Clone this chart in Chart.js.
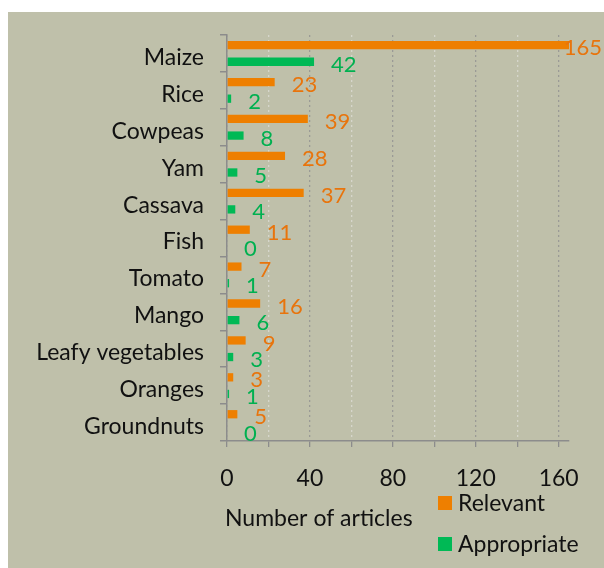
<!DOCTYPE html>
<html>
<head>
<meta charset="utf-8">
<script src="https://cdn.jsdelivr.net/npm/chart.js@4.4.0/dist/chart.umd.min.js"></script>
<style>
  html, body { margin: 0; padding: 0; background: #fff; }
  #wrap { position: absolute; left: 8px; top: 12px; width: 596px; height: 556px; background: #bfc0aa; }
</style>
</head>
<body>
<div id="wrap"><canvas id="chart"></canvas></div>
<script>
const crops = ['Maize', 'Rice', 'Cowpeas', 'Yam', 'Cassava', 'Fish', 'Tomato', 'Mango', 'Leafy vegetables', 'Oranges', 'Groundnuts'];
const relevant = [165, 23, 39, 28, 37, 11, 7, 16, 9, 3, 5];
const appropriate = [42, 2, 8, 5, 4, 0, 1, 6, 3, 1, 0];
const gridValues = [0, 20, 40, 60, 80, 100, 120, 140, 160];
const xTicks = [0, 40, 80, 120, 160];
const axisTitle = 'Number of articles';

const FONT = 'Lato';
const SIZE = 23;
const orange = '#ee7f00';
const green = '#00b955';

// value labels just right of each bar
const valueLabels = {
    id: 'valueLabels',
    afterDatasetsDraw(chart) {
        const c = chart.ctx;
        c.save();
        c.font = '22px ' + FONT;
        c.textBaseline = 'middle';
        chart.data.datasets.forEach((ds, i) => {
            chart.getDatasetMeta(i).data.forEach((bar, j) => {
                const txt = String(ds.data[j]);
                const w = c.measureText(txt).width;
                let x = bar.x + 17;
                if (x + w > chart.width - 2) x = chart.width - 2 - w;
                c.fillStyle = ds.labelColor;
                c.fillText(txt, x, bar.y + 3);
            });
        });
        c.restore();
    }
};

// axis title + vertical legend under the plot
const bottomText = {
    id: 'bottomText',
    afterDraw(chart) {
        const c = chart.ctx;
        c.save();
        c.font = SIZE + 'px ' + FONT;
        c.textBaseline = 'middle';
        c.fillStyle = '#111';
        c.fillText(axisTitle, 217, 507);
        const ys = [491, 532];
        chart.data.datasets.forEach((ds, i) => {
            c.fillStyle = ds.backgroundColor;
            c.fillRect(430, ys[i] - 7, 14, 14);
            c.fillStyle = '#111';
            c.fillText(ds.label, 450, ys[i] + 1);
        });
        c.restore();
    }
};

new Chart(document.getElementById('chart'), {
    type: 'bar',
    data: {
        labels: crops,
        datasets: [
            { label: 'Relevant', data: relevant, backgroundColor: orange, labelColor: '#e8740c' },
            { label: 'Appropriate', data: appropriate, backgroundColor: green, labelColor: '#00b050' }
        ]
    },
    options: {
        indexAxis: 'y',
        responsive: true,
        maintainAspectRatio: false,
        animation: false,
        barPercentage: 0.5,
        categoryPercentage: 0.9,
        layout: { padding: { top: 23, right: 35, left: 0, bottom: 0 } },
        plugins: { legend: { display: false }, tooltip: { enabled: false } },
        scales: {
            x: {
                min: 0,
                max: 165,
                ticks: {
                    autoSkip: false,
                    maxRotation: 0,
                    color: '#111',
                    font: { family: FONT, size: SIZE },
                    padding: 18,
                    callback: v => xTicks.includes(v) ? v : ''
                },
                afterBuildTicks: s => { s.ticks = gridValues.map(v => ({ value: v })); },
                afterFit: s => { s.height = 127; },
                grid: {
                    color: ctx => (ctx.tick && ctx.tick.value % 40 === 0) ? '#9a9a96' : '#d6d6cc',
                    tickBorderDash: [],
                    tickColor: '#8c8c8c',
                    tickLength: 6,
                    lineWidth: 1.3
                },
                border: { color: '#8c8c8c', width: 1.5, dash: [2, 3] }
            },
            y: {
                ticks: {
                    color: '#111',
                    font: { family: FONT, size: SIZE },
                    padding: 16,
                    labelOffset: 4
                },
                afterFit: s => { s.width = 219; s.paddingTop = 0; s.paddingBottom = 0; },
                grid: {
                    drawOnChartArea: false,
                    offset: true,
                    color: '#8c8c8c',
                    tickLength: 7,
                    lineWidth: 1.5
                },
                border: { color: '#8c8c8c', width: 1.5 }
            }
        }
    },
    plugins: [valueLabels, bottomText]
});
</script>
</body>
</html>
